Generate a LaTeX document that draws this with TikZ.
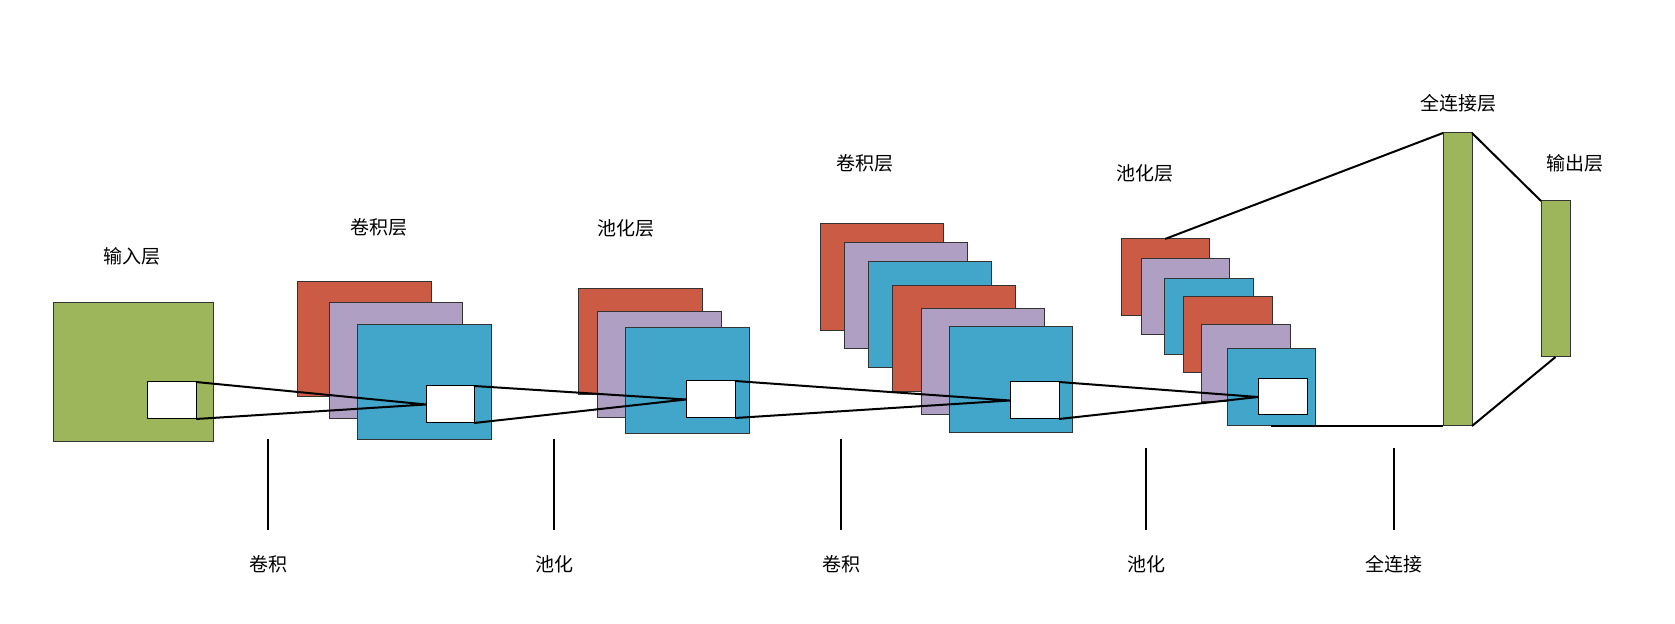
\documentclass[tikz,border=0pt]{standalone}
\usepackage{fontspec}
\newfontfamily\cjk{Noto Sans CJK SC}
\definecolor{cgreen}{RGB}{157,181,91}
\definecolor{cred}{RGB}{204,91,69}
\definecolor{cpurple}{RGB}{175,160,195}
\definecolor{cblue}{RGB}{66,166,202}
\newcommand\rbox[6]{\node[#6, minimum width={(#4-#2)*0.5pt}, minimum height={(#5-#3)*0.5pt}] (#1) at ({(#2+#4)/2},{(#3+#5)/2}) {};}
\begin{document}
\begin{tikzpicture}[x=0.5pt,y=-0.5pt,
  fm/.style={draw=black!80, line width=0.5pt, inner sep=0pt, outer sep=0pt, rectangle},
  gr/.style={fm, fill=cgreen},
  rd/.style={fm, fill=cred},
  pu/.style={fm, fill=cpurple},
  bl/.style={fm, fill=cblue},
  wh/.style={fm, fill=white, draw=black},
  link/.style={line width=1pt, black},
  tick/.style={line width=0.7pt, black},
  lbl/.style={font=\cjk\fontsize{9.5}{11}\selectfont, inner sep=0pt}]
\useasboundingbox (0,0) rectangle (1675,624);
% input layer
\rbox{in}{53}{303}{213}{442}{gr}
\rbox{w0}{147}{382}{196}{419}{wh}
% conv 1
\rbox{c1r}{297}{282}{431}{397}{rd}
\rbox{c1p}{329}{303}{462}{419}{pu}
\rbox{c1b}{357}{325}{491}{440}{bl}
\rbox{w1}{426}{386}{474}{423}{wh}
% pool 1
\rbox{p1r}{578}{289}{702}{395}{rd}
\rbox{p1p}{597}{312}{721}{418}{pu}
\rbox{p1b}{625}{328}{749}{434}{bl}
\rbox{w2}{686}{381}{735}{418}{wh}
% conv 2
\rbox{c2r1}{820}{224}{943}{331}{rd}
\rbox{c2p1}{844}{243}{967}{349}{pu}
\rbox{c2b1}{868}{262}{991}{368}{bl}
\rbox{c2r2}{892}{286}{1015}{392}{rd}
\rbox{c2p2}{921}{309}{1044}{415}{pu}
\rbox{c2b2}{949}{327}{1072}{433}{bl}
\rbox{w3}{1010}{382}{1059}{419}{wh}
% pool 2
\rbox{p2r1}{1121}{239}{1209}{316}{rd}
\rbox{p2p1}{1141}{259}{1229}{335}{pu}
\rbox{p2b1}{1164}{279}{1253}{355}{bl}
\rbox{p2r2}{1183}{297}{1272}{373}{rd}
\rbox{p2p2}{1201}{325}{1290}{402}{pu}
\rbox{p2b2}{1227}{349}{1315}{426}{bl}
\rbox{w4}{1258}{379}{1307}{415}{wh}
% fully connected and output
\rbox{fc}{1443}{133}{1472}{426}{gr}
\rbox{out}{1541}{201}{1570}{357}{gr}
% connectors
\draw[link] (w0.north east) -- (w1.west) -- (w0.south east);
\draw[link] (w1.north east) -- (w2.west) -- (w1.south east);
\draw[link] (w2.north east) -- (w3.west) -- (w2.south east);
\draw[link] (w3.north east) -- (w4.west) -- (w3.south east);
\draw[link] (p2r1.north) -- (fc.north west);
\draw[link] (p2b2.south) -- (fc.south west);
\draw[link] (fc.north east) -- (out.north west);
\draw[link] (fc.south east) -- (out.south);
% layer labels
\node[lbl] (tin) at (132,256) {输入层};
\node[lbl] (tc1) at (379,227) {卷积层};
\node[lbl] (tp1) at (626,228) {池化层};
\node[lbl] (tc2) at (865,163) {卷积层};
\node[lbl] (tp2) at (1145,173) {池化层};
\node[lbl] (tfc) at (1458,103) {全连接层};
\node[lbl] (tout) at (1575,163) {输出层};
% operation ticks and labels
\coordinate (a1) at (268,439); \coordinate (b1) at (268,530);
\coordinate (a2) at (554,439); \coordinate (b2) at (554,530);
\coordinate (a3) at (841,439); \coordinate (b3) at (841,530);
\coordinate (a4) at (1146,448); \coordinate (b4) at (1146,530);
\coordinate (a5) at (1394,448); \coordinate (b5) at (1394,530);
\draw[tick] (a1) -- (b1);
\draw[tick] (a2) -- (b2);
\draw[tick] (a3) -- (b3);
\draw[tick] (a4) -- (b4);
\draw[tick] (a5) -- (b5);
\node[lbl] (o1) at (268,564) {卷积};
\node[lbl] (o2) at (554,564) {池化};
\node[lbl] (o3) at (841,564) {卷积};
\node[lbl] (o4) at (1146,564) {池化};
\node[lbl] (o5) at (1394,564) {全连接};
\end{tikzpicture}
\end{document}
